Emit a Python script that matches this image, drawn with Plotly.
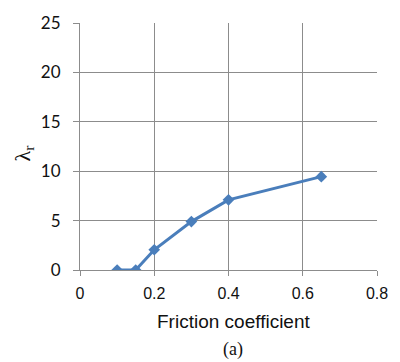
import plotly.graph_objects as go

# Friction coefficient vs. lambda_r
friction = [0.1, 0.15, 0.2, 0.3, 0.4, 0.65]
lambda_r = [0.0, 0.0, 2.05, 4.9, 7.1, 9.45]

x_ticks = [0, 0.2, 0.4, 0.6, 0.8]
x_tick_text = ["0", "0.2", "0.4", "0.6", "0.8"]
y_ticks = [0, 5, 10, 15, 20, 25]

grid = "#8c8c8c"
blue = "#4a7ebb"
ink = "#111"

fig = go.Figure()
fig.add_trace(go.Scatter(
    x=friction, y=lambda_r, mode="lines+markers",
    line=dict(color=blue, width=3),
    marker=dict(symbol="diamond", size=9, color=blue),
    showlegend=False,
))

fig.update_layout(
    width=400, height=362,
    margin=dict(l=80, r=19, t=17, b=92),
    paper_bgcolor="white", plot_bgcolor="white",
    xaxis=dict(
        range=[0, 0.8], tickvals=x_ticks, ticktext=x_tick_text,
        showgrid=True, gridcolor=grid, gridwidth=1,
        showline=True, linecolor=grid, linewidth=1,
        ticks="outside", ticklen=5, tickcolor=grid,
        ticklabelstandoff=4,
        tickfont=dict(family="Liberation Sans, Arial", size=16, color=ink),
        zeroline=False,
    ),
    yaxis=dict(
        range=[0, 25], tickvals=y_ticks,
        showgrid=True, gridcolor=grid, gridwidth=1,
        showline=True, linecolor=grid, linewidth=1,
        ticks="outside", ticklen=6, tickcolor=grid,
        ticklabelstandoff=9,
        tickfont=dict(family="Lato, Liberation Sans", size=17, color=ink),
        zeroline=False,
    ),
    annotations=[
        dict(text="Friction coefficient", xref="paper", yref="paper",
             x=0.518, y=-0.209, xanchor="center", yanchor="middle",
             showarrow=False,
             font=dict(family="Liberation Sans, Arial", size=19, color=ink)),
        dict(text="λ<sub>r</sub>", xref="paper", yref="paper",
             x=-0.19, y=0.47, xanchor="center", yanchor="middle",
             showarrow=False, textangle=-90,
             font=dict(family="Liberation Serif, Times New Roman", size=22, color=ink)),
        dict(text="(a)", xref="paper", yref="paper",
             x=0.515, y=-0.32, xanchor="center", yanchor="middle",
             showarrow=False,
             font=dict(family="Liberation Serif, Times New Roman", size=18, color=ink)),
    ],
)

fig.write_html("out.html")
